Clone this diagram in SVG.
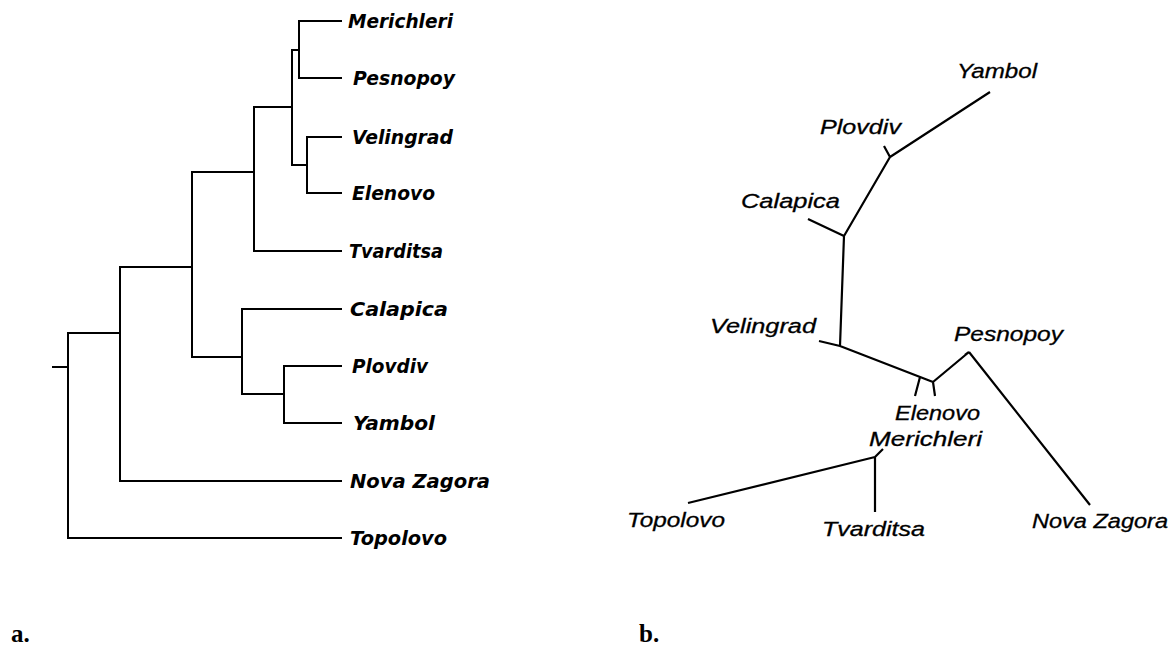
<svg xmlns="http://www.w3.org/2000/svg" width="1176" height="648" viewBox="0 0 1176 648">
<style>
.e{fill:none;stroke:#000;stroke-width:2;stroke-linecap:square;stroke-linejoin:miter}
.r{fill:none;stroke:#000;stroke-width:2.2;stroke-linecap:butt;stroke-linejoin:round}
.la{font-family:"DejaVu Sans","Liberation Sans",sans-serif;font-weight:bold;font-style:italic;font-size:20px;fill:#000}
.lb{font-family:"Liberation Sans",Arial,sans-serif;font-style:italic;font-size:20px;fill:#000;stroke:#000;stroke-width:0.3}
.cap{font-family:"Liberation Serif","Times New Roman",serif;font-weight:bold;font-size:25px;fill:#000}
</style>
<rect width="1176" height="648" fill="#fff"/>
<g id="connectors-a">
<path class="e" d="M53,367H68M68,333V538M68,333H120M68,538H341M120,267V481M120,267H192M120,481H341M192,172V357M192,172H254M192,357H242M254,107V251M254,107H292M254,251H341M292,50V165M292,50H299M292,165H307M299,21V78M299,21H341M299,78H341M307,137V193M307,137H341M307,193H341M242,309V394M242,309H341M242,394H284M284,366V423M284,366H341M284,423H341"/>
</g>
<g id="tree-a">
<g id="a-merichleri"><text class="la" x="348" y="28" textLength="105" lengthAdjust="spacingAndGlyphs">Merichleri</text></g>
<g id="a-pesnopoy"><text class="la" x="353" y="85" textLength="102" lengthAdjust="spacingAndGlyphs">Pesnopoy</text></g>
<g id="a-velingrad"><text class="la" x="352" y="144" textLength="101" lengthAdjust="spacingAndGlyphs">Velingrad</text></g>
<g id="a-elenovo"><text class="la" x="352" y="200" textLength="83" lengthAdjust="spacingAndGlyphs">Elenovo</text></g>
<g id="a-tvarditsa"><text class="la" x="349" y="258" textLength="94" lengthAdjust="spacingAndGlyphs">Tvarditsa</text></g>
<g id="a-calapica"><text class="la" x="350" y="316" textLength="98" lengthAdjust="spacingAndGlyphs">Calapica</text></g>
<g id="a-plovdiv"><text class="la" x="352" y="373" textLength="76" lengthAdjust="spacingAndGlyphs">Plovdiv</text></g>
<g id="a-yambol"><text class="la" x="353" y="430" textLength="82" lengthAdjust="spacingAndGlyphs">Yambol</text></g>
<g id="a-novazagora"><text class="la" x="350" y="488" textLength="140" lengthAdjust="spacingAndGlyphs">Nova Zagora</text></g>
<g id="a-topolovo"><text class="la" x="350" y="545" textLength="97" lengthAdjust="spacingAndGlyphs">Topolovo</text></g>
</g>
<g id="connectors-b">
<path class="r" d="M990,92L890,157M884,146L890,157M890,157L844,236M808,219L844,236M844,236L840,346M819,341L840,346L933,382M920,377L915,396M933,382L935,396M933,382L969,352M965,355L969,352M969,352L1090,505M688,503L875,457M875,457V512M875,457L883,449"/>
</g>
<g id="tree-b">
<g id="b-yambol"><text class="lb" x="957" y="78" textLength="80" lengthAdjust="spacingAndGlyphs">Yambol</text></g>
<g id="b-plovdiv"><text class="lb" x="820" y="134" textLength="81" lengthAdjust="spacingAndGlyphs">Plovdiv</text></g>
<g id="b-calapica"><text class="lb" x="741" y="208" textLength="99" lengthAdjust="spacingAndGlyphs">Calapica</text></g>
<g id="b-velingrad"><text class="lb" x="710" y="333" textLength="106" lengthAdjust="spacingAndGlyphs">Velingrad</text></g>
<g id="b-pesnopoy"><text class="lb" x="954" y="341" textLength="109" lengthAdjust="spacingAndGlyphs">Pesnopoy</text></g>
<g id="b-elenovo"><text class="lb" x="895" y="420" textLength="85" lengthAdjust="spacingAndGlyphs">Elenovo</text></g>
<g id="b-merichleri"><text class="lb" x="869" y="446" textLength="113" lengthAdjust="spacingAndGlyphs">Merichleri</text></g>
<g id="b-topolovo"><text class="lb" x="627" y="527" textLength="98" lengthAdjust="spacingAndGlyphs">Topolovo</text></g>
<g id="b-tvarditsa"><text class="lb" x="822" y="536" textLength="103" lengthAdjust="spacingAndGlyphs">Tvarditsa</text></g>
<g id="b-novazagora"><text class="lb" x="1032" y="528" textLength="136" lengthAdjust="spacingAndGlyphs">Nova Zagora</text></g>
</g>
<g id="captions">
<text class="cap" x="11" y="642">a.</text>
<text class="cap" x="639" y="642">b.</text>
</g>
</svg>
